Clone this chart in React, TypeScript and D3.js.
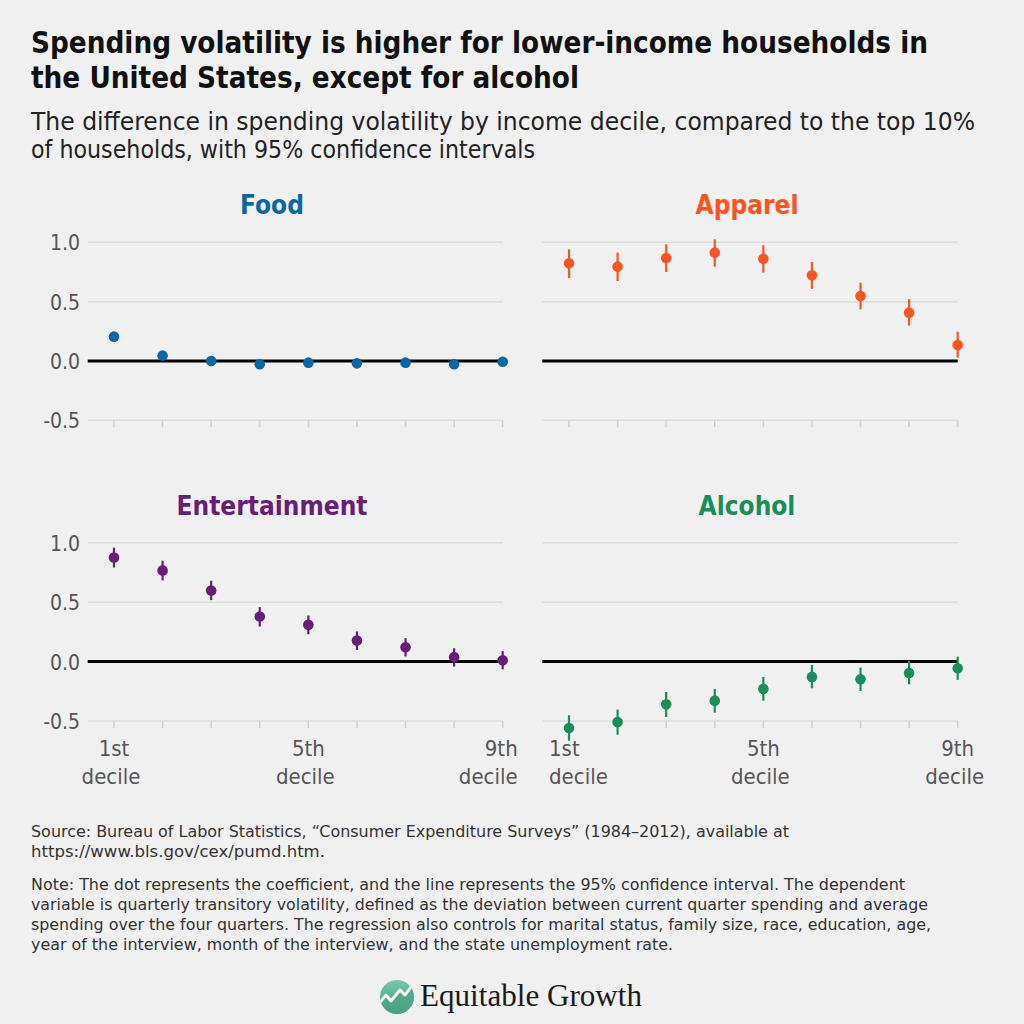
import React from "react";
import * as d3 from "d3";

const deciles = [1, 2, 3, 4, 5, 6, 7, 8, 9];

const foodCoef = [0.205, 0.045, 0.0, -0.028, -0.014, -0.02, -0.014, -0.028, -0.006];
const foodLow = [0.19, 0.03, -0.015, -0.043, -0.029, -0.035, -0.029, -0.043, -0.021];
const foodHigh = [0.22, 0.06, 0.015, -0.013, 0.001, -0.005, 0.001, -0.013, 0.009];

const apparelCoef = [0.823, 0.795, 0.868, 0.913, 0.862, 0.722, 0.548, 0.407, 0.135];
const apparelLow = [0.697, 0.674, 0.75, 0.795, 0.744, 0.607, 0.435, 0.298, 0.028];
const apparelHigh = [0.941, 0.913, 0.983, 1.025, 0.975, 0.834, 0.66, 0.52, 0.247];

const entCoef = [0.876, 0.767, 0.598, 0.379, 0.309, 0.177, 0.121, 0.037, 0.011];
const entLow = [0.792, 0.683, 0.517, 0.295, 0.23, 0.098, 0.042, -0.042, -0.065];
const entHigh = [0.958, 0.848, 0.68, 0.458, 0.388, 0.253, 0.197, 0.112, 0.087];

const alcCoef = [-0.559, -0.508, -0.36, -0.329, -0.23, -0.129, -0.149, -0.096, -0.056];
const alcLow = [-0.666, -0.615, -0.466, -0.43, -0.329, -0.225, -0.247, -0.191, -0.154];
const alcHigh = [-0.452, -0.404, -0.256, -0.23, -0.129, -0.028, -0.051, 0.006, 0.042];

const yTicks = [1.0, 0.5, 0.0, -0.5];
const yTickLabels = ["1.0", "0.5", "0.0", "-0.5"];
const xLabelDeciles = [1, 5, 9];
const xLabelText = ["1st", "5th", "9th"];

const titleLines = [
  "Spending volatility is higher for lower-income households in",
  "the United States, except for alcohol",
];
const subtitleLines = [
  "The difference in spending volatility by income decile, compared to the top 10%",
  "of households, with 95% confidence intervals",
];
const sourceLines = [
  "Source: Bureau of Labor Statistics, \u201cConsumer Expenditure Surveys\u201d (1984\u20132012), available at",
  "https://www.bls.gov/cex/pumd.htm.",
];
const noteLines = [
  "Note: The dot represents the coefficient, and the line represents the 95% confidence interval. The dependent",
  "variable is quarterly transitory volatility, defined as the deviation between current quarter spending and average",
  "spending over the four quarters. The regression also controls for marital status, family size, race, education, age,",
  "year of the interview, month of the interview, and the state unemployment rate.",
];

const FONT = "'DejaVu Sans Condensed', 'DejaVu Sans', sans-serif";

type PanelDef = {
  name: string;
  color: string;
  coef: number[];
  low: number[];
  high: number[];
  col: number;
  row: number;
};

const panels: PanelDef[] = [
  { name: "Food", color: "#0a66a5", coef: foodCoef, low: foodLow, high: foodHigh, col: 0, row: 0 },
  { name: "Apparel", color: "#fb5421", coef: apparelCoef, low: apparelLow, high: apparelHigh, col: 1, row: 0 },
  { name: "Entertainment", color: "#6b1b79", coef: entCoef, low: entLow, high: entHigh, col: 0, row: 1 },
  { name: "Alcohol", color: "#198f57", coef: alcCoef, low: alcLow, high: alcHigh, col: 1, row: 1 },
];

const colLayout = [
  { x0: 114, x1: 502.7, gridL: 87.7, gridR: 502.7, titleX: 272 },
  { x0: 569, x1: 957.7, gridL: 542.3, gridR: 957.7, titleX: 747 },
];
const rowLayout = [
  { yTop: 242.3, yBot: 420.3, titleY: 214 },
  { yTop: 542.7, yBot: 721, titleY: 515 },
];

function Panel({ p }: { p: PanelDef }) {
  const c = colLayout[p.col];
  const r = rowLayout[p.row];
  const x = d3.scaleLinear().domain([1, 9]).range([c.x0, c.x1]);
  const y = d3.scaleLinear().domain([-0.5, 1.0]).range([r.yBot, r.yTop]);
  return (
    <g>
      <text x={c.titleX} y={r.titleY} textAnchor="middle" fontFamily={FONT} fontWeight="bold" fontSize={26} fill={p.color}>
        {p.name}
      </text>
      {yTicks.filter((t) => t !== 0).map((t) => (
        <line key={"g" + t} x1={c.gridL} x2={c.gridR} y1={y(t)} y2={y(t)} stroke="#dcdcdc" strokeWidth={1.5} />
      ))}
      {deciles.map((d) => (
        <line key={"t" + d} x1={x(d)} x2={x(d)} y1={y(-0.5)} y2={y(-0.5) + 7} stroke="#cfcfcf" strokeWidth={1.5} />
      ))}
      {p.col === 0 &&
        yTicks.map((t, i) => (
          <text key={"yl" + t} x={80} y={y(t) + 8} textAnchor="end" fontFamily={FONT} fontSize={21} fill="#555">
            {yTickLabels[i]}
          </text>
        ))}
      <line x1={c.gridL} x2={c.gridR} y1={y(0)} y2={y(0)} stroke="#000" strokeWidth={3} />
      {deciles.map((d, i) => (
        <g key={"m" + d}>
          <line x1={x(d)} x2={x(d)} y1={y(p.low[i])} y2={y(p.high[i])} stroke={p.color} strokeWidth={2.2} />
          <circle cx={x(d)} cy={y(p.coef[i])} r={5.3} fill={p.color} />
        </g>
      ))}
      {p.row === 1 &&
        xLabelDeciles.map((d, i) => {
          let anchor = "middle";
          let lx = x(d);
          let dx2 = -3;
          if (p.col === 0 && i === 2) {
            anchor = "end";
            lx = x(d) + 15;
            dx2 = 0;
          }
          if (p.col === 1 && i === 0) {
            anchor = "start";
            lx = x(d) - 20;
            dx2 = 0;
          }
          return (
            <g key={"xl" + d}>
              <text x={lx} y={756} textAnchor={anchor} fontFamily={FONT} fontSize={22} fill="#555">
                {xLabelText[i]}
              </text>
              <text x={lx + dx2} y={784} textAnchor={anchor} fontFamily={FONT} fontSize={22} fill="#555">
                decile
              </text>
            </g>
          );
        })}
    </g>
  );
}

export default function App() {
  const titleWidths = [897, 548];
  const subWidths = [944, 504];
  const sourceWidths = [758, 294];
  const noteWidths = [874, 897, 900, 642];
  return (
    <svg width={1024} height={1024} style={{ position: "absolute", left: 0, top: 0 }}>
      <rect x={0} y={0} width={1024} height={1024} fill="#f0f0f0" />
      {titleLines.map((t, i) => (
        <text key={"ti" + i} x={31} y={53 + i * 35} fontFamily={FONT} fontWeight="bold" fontSize={31} fill="#111"
          textLength={titleWidths[i]} lengthAdjust="spacingAndGlyphs">
          {t}
        </text>
      ))}
      {subtitleLines.map((t, i) => (
        <text key={"su" + i} x={31} y={130 + i * 28} fontFamily={FONT} fontSize={25} fill="#222"
          textLength={subWidths[i]} lengthAdjust="spacingAndGlyphs">
          {t}
        </text>
      ))}
      {panels.map((p) => (
        <Panel key={p.name} p={p} />
      ))}
      {sourceLines.map((t, i) => (
        <text key={"so" + i} x={31} y={837 + i * 20} fontFamily={FONT} fontSize={15.5} fill="#333"
          textLength={sourceWidths[i]} lengthAdjust="spacingAndGlyphs">
          {t}
        </text>
      ))}
      {noteLines.map((t, i) => (
        <text key={"no" + i} x={31} y={890 + i * 20} fontFamily={FONT} fontSize={15.5} fill="#333"
          textLength={noteWidths[i]} lengthAdjust="spacingAndGlyphs">
          {t}
        </text>
      ))}
      <defs>
        <linearGradient id="logoGrad" x1="0" y1="0" x2="0" y2="1">
          <stop offset="0" stopColor="#74c9a9" />
          <stop offset="1" stopColor="#3f9c78" />
        </linearGradient>
        <clipPath id="logoClip">
          <circle cx={397} cy={997} r={17} />
        </clipPath>
      </defs>
      <circle cx={397} cy={997} r={17} fill="url(#logoGrad)" />
      <g clipPath="url(#logoClip)">
        <path d="M376,1003 L386,994 L391,1000 L400,989 L405,994 L416,980 L416,1020 L376,1020 Z" fill="#4aa582" opacity={0.6} />
        <polyline points="378,1005 386,995 391,1001 400,990 405,995 414,983" fill="none" stroke="#fff" strokeWidth={2.8} strokeLinejoin="round" />
      </g>
      <text x={420} y={1006} fontFamily="'Liberation Serif', 'DejaVu Serif', serif" fontSize={31} fill="#1a1a1a"
        textLength={222} lengthAdjust="spacingAndGlyphs">
        Equitable Growth
      </text>
    </svg>
  );
}
